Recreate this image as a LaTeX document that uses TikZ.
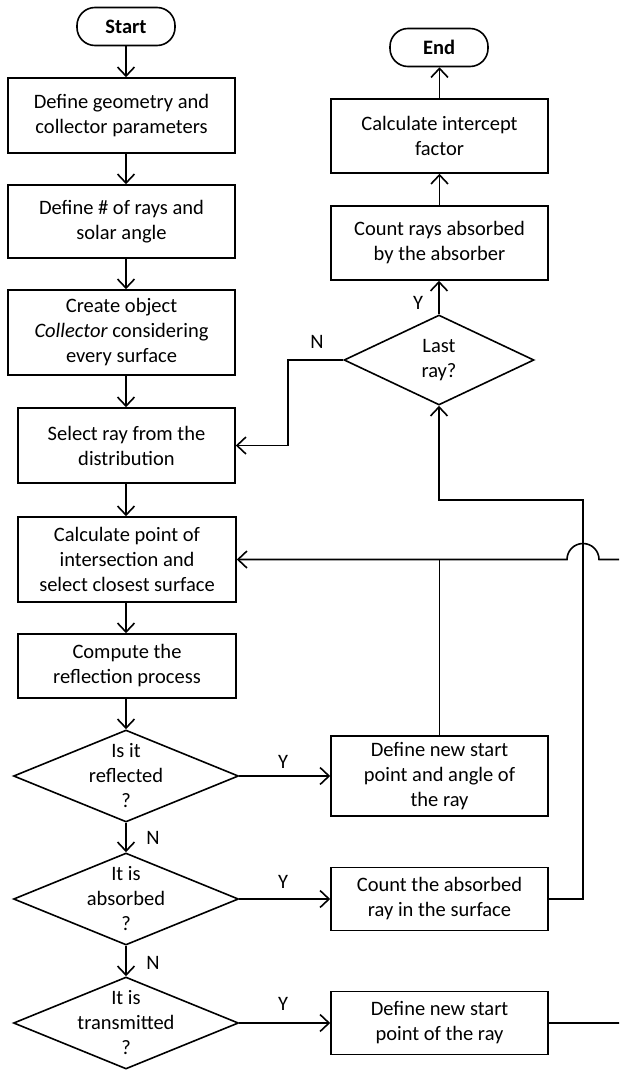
\documentclass[tikz,border=0pt]{standalone}
\usepackage{fontspec}
\setmainfont{Carlito}
\usetikzlibrary{arrows.meta,shapes.geometric,calc}
\begin{document}
\begin{tikzpicture}[x=1pt,y=-1pt,line width=1.6pt,
  every node/.style={font=\fontsize{20.5}{25}\selectfont},
  box/.style={draw,rectangle,inner sep=0pt,align=center},
  term/.style={draw,rectangle,rounded corners=18pt,inner sep=0pt,minimum width=98pt,minimum height=38pt,font=\fontsize{20.5}{25}\selectfont\bfseries},
  dia/.style={draw,diamond,inner sep=0pt},
  lbl/.style={inner sep=0pt,align=center},
  arr/.style={-{Straight Barb[length=9pt,width=17pt]}}]
\useasboundingbox (0,0) rectangle (619,1070);
\clip (0,0) rectangle (619,1070);
% left column
\node[term] (start) at (126,26.5) {Start};
\node[box,minimum width=227pt,minimum height=75pt] (b1) at (121.5,115.5) {Define geometry and\\collector parameters};
\node[box,minimum width=227pt,minimum height=73pt] (b2) at (121.5,221.5) {Define \# of rays and\\solar angle};
\node[box,minimum width=227pt,minimum height=85pt] (b3) at (121.5,332.5) {Create object\\\textit{Collector} considering\\every surface};
\node[box,minimum width=217pt,minimum height=75pt] (b4) at (126.5,445.5) {Select ray from the\\distribution};
\node[box,minimum width=218pt,minimum height=85pt] (b5) at (127,559.5) {Calculate point of\\intersection and\\select closest surface};
\node[box,minimum width=218pt,minimum height=64pt] (b6) at (127,666) {Compute the\\reflection process};
\node[dia,minimum width=225pt,minimum height=92pt] (d1) at (126,776) {};
\node[lbl] (d1t) at (d1) {Is it\\reflected\\?};
\node[dia,minimum width=225pt,minimum height=92pt] (d2) at (126,899) {};
\node[lbl] (d2t) at (d2) {It is\\absorbed\\?};
\node[dia,minimum width=225pt,minimum height=92pt] (d3) at (126,1023) {};
\node[lbl] (d3t) at (d3) {It is\\transmitted\\?};
% right column
\node[term] (endn) at (439,47.5) {End};
\node[box,minimum width=217pt,minimum height=74pt] (calc) at (439.5,136) {Calculate intercept\\factor};
\node[box,minimum width=217pt,minimum height=74pt] (cnt) at (439.5,243) {Count rays absorbed\\by the absorber};
\node[dia,minimum width=190pt,minimum height=90pt] (last) at (439,360) {};
\node[lbl] (lastt) at (last) {Last\\ray?};
\node[box,minimum width=217pt,minimum height=80pt] (r1) at (439.5,776) {Define new start\\point and angle of\\the ray};
\node[box,minimum width=217pt,minimum height=63pt] (r2) at (439.5,899) {Count the absorbed\\ray in the surface};
\node[box,minimum width=217pt,minimum height=63pt] (r3) at (439.5,1023) {Define new start\\point of the ray};
% main flow
\draw[arr] (start.south) -- (start.south |- b1.north);
\draw[arr] (start.south |- b1.south) -- (start.south |- b2.north);
\draw[arr] (start.south |- b2.south) -- (start.south |- b3.north);
\draw[arr] (start.south |- b3.south) -- (start.south |- b4.north);
\draw[arr] (start.south |- b4.south) -- (start.south |- b5.north);
\draw[arr] (start.south |- b5.south) -- (start.south |- b6.north);
\draw[arr] (start.south |- b6.south) -- (d1.north);
\draw[arr] (d1.south) -- (d2.north);
\draw[arr] (d2.south) -- (d3.north);
\draw[arr] (d1.east) -- (r1.west);
\draw[arr] (d2.east) -- (r2.west);
\draw[arr] (d3.east) -- (r3.west);
% feedback loops
\coordinate (hop) at (583,559.5);
\coordinate (lk) at (583,500);
\coordinate (rx) at (632,1023);
\coordinate (nk) at (288,360);
\draw[arr] (r3.east) -- (rx) -- (rx |- b5.east) -- ($(hop)+(16,0)$) arc[start angle=0,end angle=180,radius=16pt] -- (b5.east);
\draw (r1.north) -- (r1.north |- b5.east);
\draw[arr] (r2.east) -- (r2.east -| lk) -- (lk) -- (lk -| last.south) -- (last.south);
\draw[arr] (last.west) -- (nk) -- (nk |- b4.east) -- (b4.east);
\draw[arr] (last.north) -- (last.north |- cnt.south);
\draw[arr] (cnt.north) -- (cnt.north |- calc.south);
\draw[arr] (calc.north) -- (calc.north |- endn.south);
% labels
\node[lbl] (ly0) at (418,303) {Y};
\node[lbl] (ln0) at (317,342) {N};
\node[lbl] (ly1) at (283,762) {Y};
\node[lbl] (ly2) at (283,882) {Y};
\node[lbl] (ly3) at (283,1004) {Y};
\node[lbl] (ln1) at (153,838) {N};
\node[lbl] (ln2) at (153,963) {N};
\end{tikzpicture}
\end{document}
